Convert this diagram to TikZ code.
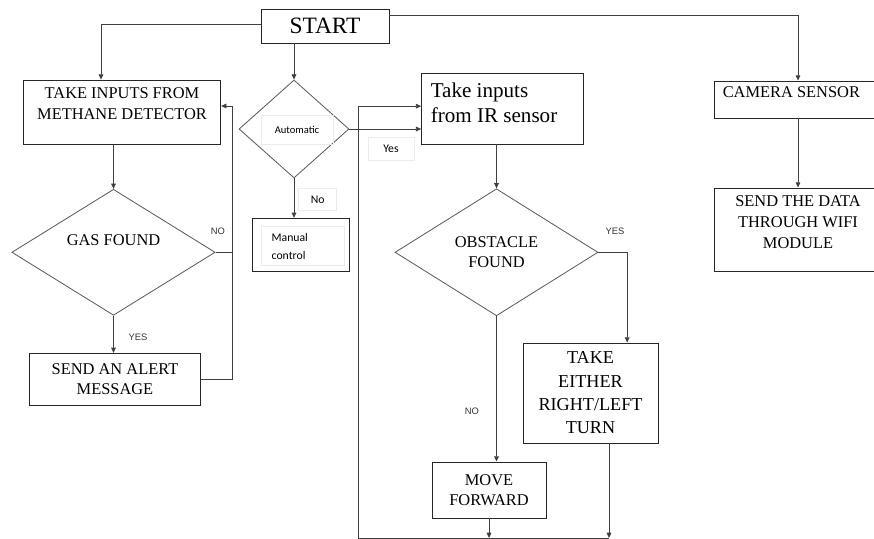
\documentclass[tikz,border=0pt]{standalone}
\usepackage{fontspec}
\setmainfont{Liberation Serif}
\newfontfamily\carlito{Carlito}
\newfontfamily\arialfont{Liberation Sans}
\usepackage{tikz}
\usetikzlibrary{arrows.meta}
\usetikzlibrary{shapes.geometric}

\begin{document}
\begin{tikzpicture}[x=0.03cm, y=-0.03cm]
        \tikzstyle{block}=[draw=black!85, line width=0.8pt, rectangle,
            inner sep=0pt, align=center, font=\fontsize{14}{17}\selectfont]
        \tikzstyle{decision}=[draw=black!65, line width=0.7pt, diamond,
            inner sep=0pt, align=center, font=\fontsize{14}{17}\selectfont]
        \tikzstyle{note}=[draw=black!8, inner sep=0pt,
            font=\carlito\fontsize{10}{15}\selectfont]
        \tikzstyle{tag}=[inner sep=0pt, text=black!80,
            font=\arialfont\fontsize{8}{9}\selectfont]
        \tikzstyle{flow}=[draw=black!75, line width=0.7pt]
        \tikzstyle{arrow}=[flow, -{Triangle[length=4.5pt,width=4pt]}]

            \useasboundingbox (0,0) rectangle (874,539);
            \clip (0,0) rectangle (874,539);

            \node[block, minimum width=3.84cm, minimum height=1.02cm,
                font=\fontsize{20}{24}\selectfont] (start) at (325,26) {START};

            \node[block, minimum width=5.92cm, minimum height=1.93cm,
                label={[anchor=north, yshift=-6.5pt, inner sep=0pt, align=center,
                font=\fontsize{14}{18}\selectfont]north:TAKE INPUTS FROM\\METHANE DETECTOR}]
                (methane) at (122,112.2) {};
            \node[decision, minimum width=6.1cm, minimum height=3.78cm,
                label={[inner sep=0pt, yshift=10pt,
                font=\fontsize{14}{17}\selectfont]center:GAS FOUND}]
                (gas) at (113.5,252.3) {};
            \node[block, minimum width=5.14cm, minimum height=1.55cm]
                (alert) at (115,379.2) {SEND AN ALERT\\MESSAGE};

            \node[decision, minimum width=3.3cm, minimum height=2.94cm] (auto) at (294,129) {};
            \node[note, minimum width=2.15cm, minimum height=0.87cm,
                font=\carlito\fontsize{9}{11}\selectfont] (autotxt) at (297,129.5) {Automatic};
            \node[block, minimum width=2.91cm, minimum height=1.6cm] (manual) at (300.8,245) {};
            \node[note, minimum width=2.5cm, minimum height=1.17cm, inner xsep=9pt,
                text width=1.86cm, align=left] (manualtxt) at (302.7,246.2) {Manual\\control};
            \node[note, minimum width=1.38cm, minimum height=0.69cm] (yestxt) at (391,148.5) {Yes};
            \node[note, minimum width=1.14cm, minimum height=0.67cm] (notxt) at (317.7,199.5) {No};

            \node[block, minimum width=4.84cm, minimum height=2.13cm,
                label={[anchor=north west, xshift=8pt, yshift=-8.3pt, inner sep=0pt, align=left,
                font=\fontsize{18}{21.3}\selectfont]north west:Take inputs\\from IR sensor}]
                (ir) at (502.3,108.5) {};
            \node[decision, minimum width=6.09cm, minimum height=3.81cm]
                (obst) at (496.5,252.3) {OBSTACLE\\FOUND};
            \node[block, minimum width=4.05cm, minimum height=3cm,
                font=\fontsize{15.5}{19.9}\selectfont]
                (turn) at (590.5,393) {TAKE\\EITHER\\RIGHT/LEFT\\TURN};
            \node[block, minimum width=3.42cm, minimum height=1.68cm]
                (move) at (489,490) {MOVE\\FORWARD};

            \node[block, minimum width=5.04cm, minimum height=1.11cm,
                label={[anchor=north west, xshift=7.7pt, yshift=-4.8pt, inner sep=0pt,
                font=\fontsize{14}{17}\selectfont]north west:CAMERA SENSOR}]
                (camera) at (798,99.5) {};
            \node[block, minimum width=5.04cm, minimum height=2.49cm,
                label={[anchor=north, yshift=-6.5pt, inner sep=0pt, align=center,
                font=\fontsize{14}{18}\selectfont]north:SEND THE DATA\\THROUGH WIFI\\MODULE}]
                (wifi) at (798,229.5) {};

            \node[tag] (gasno) at (218,231) {NO};
            \node[tag] (gasyes) at (138,337) {YES};
            \node[tag] (obstyes) at (615,231) {YES};
            \node[tag] (obstno) at (472,411) {NO};

            \coordinate (noloop) at (232.3,106);
            \coordinate (busleft) at (358,538);
            \coordinate (busright) at (609,538);

            \draw[arrow] ([yshift=0.06cm]start.west) -| ([xshift=-0.63cm]methane.north);
            \draw[arrow] ([yshift=0.33cm]start.east) -| (camera.north);
            \draw[arrow] (start.south -| auto.north) -- (auto.north);
            \draw[arrow] (methane.south -| gas.north) -- (gas.north);
            \draw[arrow] (gas.south) -- (gas.south |- alert.north);
            \draw[arrow] (gas.east) -| (noloop) -- (noloop -| methane.east);
            \draw[flow] (alert.east) -| (noloop);
            \draw[arrow] (auto.south) -- (auto.south |- manual.north);
            \draw[arrow] (auto.east) -- (auto.east -| ir.west);
            \draw[arrow] (ir.south -| obst.north) -- (obst.north);
            \draw[arrow] (obst.east) -| ([xshift=1.1cm]turn.north);
            \draw[arrow] (obst.south) -- (obst.south |- move.north);
            \draw[arrow] (move.south) -- (move.south |- busleft);
            \draw[arrow] (busright |- turn.south) -- (busright);
            \draw[arrow] (busright) -- (busleft) |- ([yshift=0.07cm]ir.west);
            \draw[arrow] (camera.south) -- (wifi.north);
        \end{tikzpicture}
\end{document}
